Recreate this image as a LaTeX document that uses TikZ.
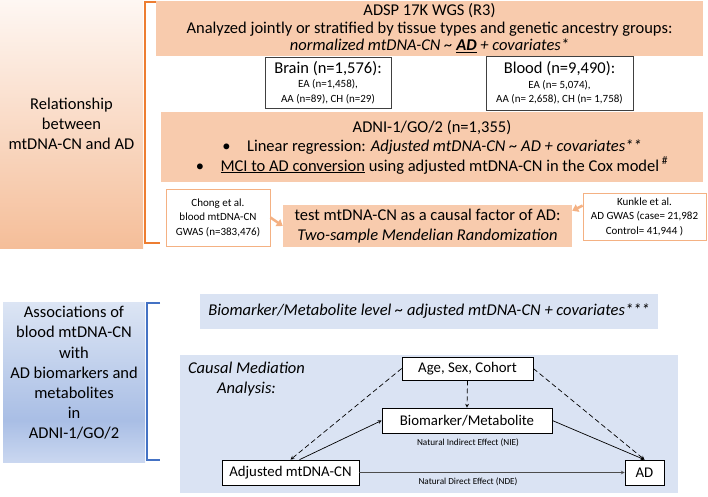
\documentclass[tikz,border=0pt]{standalone}
\usepackage{fontspec}
\setmainfont{Carlito}
\usepackage{tikz}
\usetikzlibrary{calc, positioning, arrows, arrows.meta}
\definecolor{peach}{HTML}{F8CBAD}
\definecolor{peachtop}{HTML}{FEF7F3}
\definecolor{peachbot}{HTML}{F5BE99}
\definecolor{orangeline}{HTML}{ED7D31}
\definecolor{lightorange}{HTML}{F4B183}
\definecolor{paleblue}{HTML}{DAE3F3}
\definecolor{bluetop}{HTML}{DCE5F4}
\definecolor{bluemid}{HTML}{A9BEE5}
\definecolor{bluebot}{HTML}{CAD7F0}
\definecolor{blueline}{HTML}{4472C4}
\pgfdeclareverticalshading{bluefade}{100bp}{color(0bp)=(bluebot); color(25bp)=(bluebot); color(38bp)=(bluemid); color(75bp)=(bluetop); color(100bp)=(bluetop)}
\newcommand{\fmain}{\fontsize{16.5}{17.5}\selectfont}
\newcommand{\fsmall}{\fontsize{11}{14.5}\selectfont}
\newcommand{\ftiny}{\fontsize{9.2}{10}\selectfont}
\tikzstyle{band}=[fill=peach, inner sep=0pt, align=center, font=\fmain]
\tikzstyle{cohort}=[fill=white, draw=black!75, line width=0.9pt, inner sep=0pt, align=center, font=\fsmall]
\tikzstyle{gwas}=[fill=white, draw=lightorange, line width=0.9pt, inner sep=0pt, align=center, font=\fsmall]
\tikzstyle{panel}=[fill=paleblue, inner sep=0pt, align=center, font=\fmain]
\tikzstyle{med}=[fill=white, draw=black, line width=0.7pt, inner sep=0pt, font=\fontsize{14.8}{17}\selectfont]
\tikzstyle{feed}=[-{Triangle[length=6pt, width=8pt]}, lightorange, line width=2.5pt]
\tikzset{>=stealth}

\begin{document}
\begin{tikzpicture}[x=1pt, y=-1pt]
\useasboundingbox (0,0) rectangle (708,496);

% relationship with AD
\node[top color=peachtop, bottom color=peachbot, minimum width=143pt, minimum height=248pt, inner sep=0pt, align=center, font=\fontsize{16.5}{20}\selectfont] (rel) at (71.5,124) {Relationship\\between\\mtDNA-CN and AD};
\draw[orangeline, line width=2pt] (158,2) -- (145,2) -- (145,243) -- (160,243);

\node[band, minimum width=547pt, minimum height=55pt] (adsp) at (429.5,28) {ADSP 17K WGS (R3)\\Analyzed jointly or stratified by tissue types and genetic ancestry groups:\\\textit{normalized mtDNA-CN \textasciitilde{} \underline{\textbf{AD}} + covariates*}};
\node[cohort, minimum width=126pt, minimum height=51pt] (brain) at (328,82.5) {{\fmain Brain (n=1,576):}\\EA (n=1,458),\\AA (n=89), CH (n=29)};
\node[cohort, minimum width=147pt, minimum height=54pt] (blood) at (559.5,83) {{\fmain Blood (n=9,490):}\\EA (n= 5,074),\\AA (n= 2,658), CH (n= 1,758)};
\node[band, minimum width=542pt, minimum height=70pt, font=\fontsize{16.5}{19.5}\selectfont] (adni) at (432,147) {ADNI-1/GO/2 (n=1,355)\\\textbullet\quad Linear regression: \textit{Adjusted mtDNA-CN \textasciitilde{} AD + covariates**}\\\textbullet\quad\underline{MCI to AD conversion} using adjusted mtDNA-CN in the Cox model\,$^{\#}$};

\node[gwas, minimum width=104pt, minimum height=57pt] (chong) at (218,217.5) {Chong et al.\\blood mtDNA-CN\\GWAS (n=383,476)};
\node[band, minimum width=289pt, minimum height=42pt, font=\fontsize{16.5}{20}\selectfont] (mr) at (427.5,226) {test mtDNA-CN as a causal factor of AD:\\\textit{Two-sample Mendelian Randomization}};
\node[gwas, minimum width=123pt, minimum height=47pt] (kunkle) at (644.5,216.5) {Kunkle et al.\\AD GWAS (case= 21,982\\Control= 41,944 )};
\draw[feed] (chong.east) -- (mr.west);
\draw[feed] (kunkle.170) -- (mr.6);

% biomarkers and metabolites
\node[shading=bluefade, minimum width=142pt, minimum height=160pt, inner sep=0pt] (assoc) at (74,382) {};
\node[align=center, font=\fontsize{16.5}{20.2}\selectfont] (assoctext) at (74,373) {Associations of\\blood mtDNA-CN\\with\\AD biomarkers and\\metabolites\\in\\ADNI-1/GO/2};
\draw[blueline, line width=2pt] (160,303) -- (147,303) -- (147,460) -- (160,460);

\node[panel, minimum width=458pt, minimum height=35pt] (level) at (429,311.5) {\textit{Biomarker/Metabolite level \textasciitilde{} adjusted mtDNA-CN + covariates***}};
\node[panel, minimum width=498pt, minimum height=138pt] (cma) at (429,424) {};
\node[font=\fontsize{16.5}{20}\selectfont, align=center] (cmatitle) at (246.5,379) {\textit{Causal Mediation}\\\textit{Analysis:}};

\node[med, minimum width=131pt, minimum height=23pt] (conf) at (467.5,368.5) {Age, Sex, Cohort};
\node[med, minimum width=170pt, minimum height=25pt] (bio) at (467,420.5) {Biomarker/Metabolite};
\node[med, minimum width=137pt, minimum height=25pt] (mt) at (290.5,472.5) {Adjusted mtDNA-CN};
\node[med, minimum width=39pt, minimum height=25pt] (ad) at (644.5,472.5) {AD};
\node[font=\ftiny] (nie) at (468,443) {Natural Indirect Effect (NIE)};
\node[font=\ftiny] (nde) at (468,482) {Natural Direct Effect (NDE)};

\draw[->, dash pattern=on 5pt off 3pt, line width=0.7pt] (conf.west) -- (mt.north);
\draw[->, dash pattern=on 5pt off 3pt, line width=0.7pt] (conf.east) -- (ad.north);
\draw[->, dash pattern=on 5pt off 3pt, line width=0.7pt] (conf.south) -- (bio.north);
\draw[->, line width=0.7pt] (mt.55) -- (bio.west);
\draw[->, line width=0.7pt] (bio.east) -- (ad.north);
\draw[->, line width=0.7pt, black!70] (mt.east) -- (ad.west);
\end{tikzpicture}
\end{document}
